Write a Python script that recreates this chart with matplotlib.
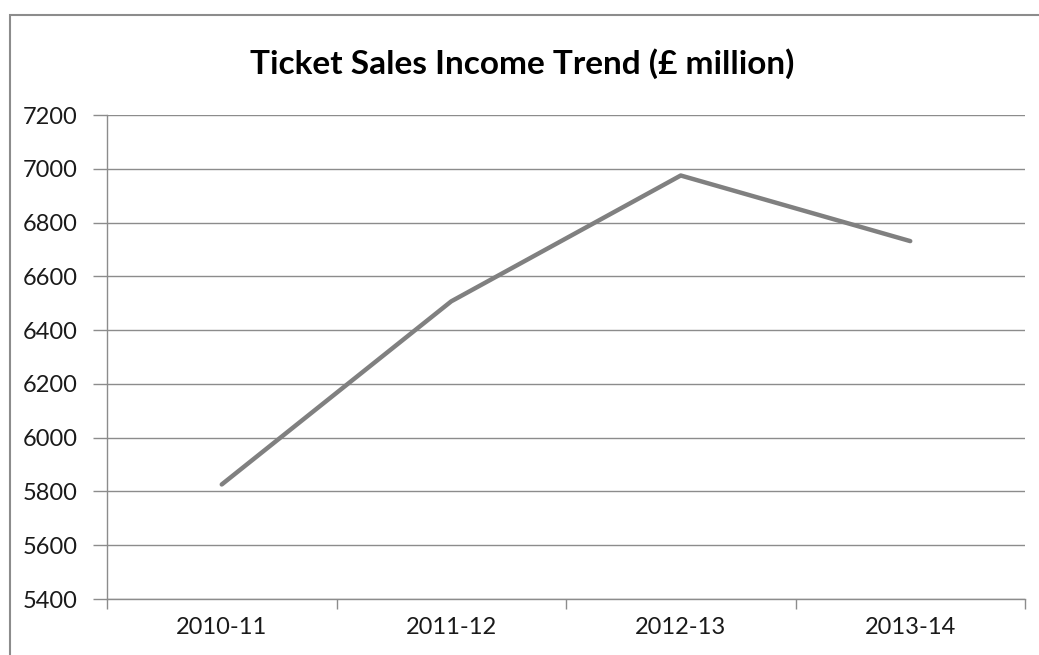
import matplotlib
matplotlib.use("Agg")
import matplotlib.pyplot as plt
from matplotlib.patches import Rectangle

categories = ["2010-11", "2011-12", "2012-13", "2013-14"]
income = [5826, 6507, 6975, 6731]
yticks = [5400, 5600, 5800, 6000, 6200, 6400, 6600, 6800, 7000, 7200]
title = "Ticket Sales Income Trend (£ million)"

plt.rcParams['font.family'] = ['Lato', 'DejaVu Sans']

W, H = 1039, 655
fig = plt.figure(figsize=(W/100, H/100), dpi=100)
fig.patch.set_facecolor('white')

# outer chart border (right/bottom run off the image)
fig.patches.append(Rectangle((10/W, -0.1), 1.2, (H-15)/H + 0.1, transform=fig.transFigure,
                             fill=False, edgecolor='#8c8c8c', linewidth=1.5))

left, right = 107/W, 1025/W
top, bottom = 1 - 115/H, 1 - 599/H
ax = fig.add_axes([left, bottom, right-left, top-bottom])

x = list(range(len(categories)))
ax.plot(x, income, color='#808080', linewidth=3.2, solid_capstyle='round', zorder=3)

ax.set_xlim(-0.5, len(categories)-0.5)
ax.set_ylim(yticks[0], yticks[-1])
ax.set_yticks(yticks)
ax.set_yticklabels([str(v) for v in yticks])
ax.yaxis.grid(True, color='#8c8c8c', linewidth=1.0)
ax.set_axisbelow(True)

ax.set_xticks(x)
ax.set_xticklabels(categories)
ax.set_xticks([i-0.5 for i in range(len(categories)+1)], minor=True)
ax.tick_params(axis='x', which='major', length=0, pad=13, labelsize=17, labelcolor='#1a1a1a')
ax.tick_params(axis='x', which='minor', length=7, color='#8c8c8c', width=1.0, direction='out')
ax.tick_params(axis='y', length=10, color='#8c8c8c', width=1.0, pad=11, labelsize=17, labelcolor='#1a1a1a')

for s in ['top', 'right']:
    ax.spines[s].set_visible(False)
for s in ['left', 'bottom']:
    ax.spines[s].set_color('#8c8c8c')
    ax.spines[s].set_linewidth(1.0)

fig.text(522/W, 1 - 64/H, title, ha='center', va='center', fontsize=24, fontweight='bold', color='black')

fig.savefig("out.png", dpi=100)
